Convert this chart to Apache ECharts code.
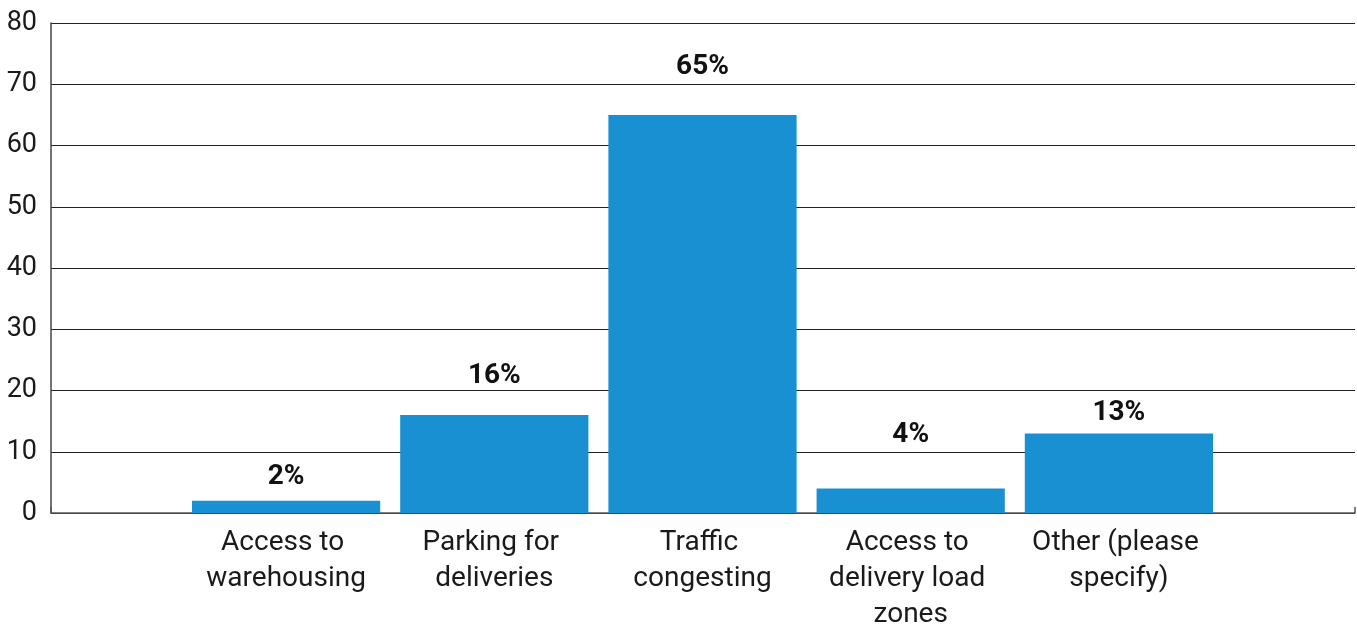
<!DOCTYPE html>
<html>
<head>
<meta charset="utf-8">
<script src="https://cdn.jsdelivr.net/npm/echarts@6/dist/echarts.min.js"></script>
<style>
  html, body { margin: 0; padding: 0; background: #fff; }
  #chart { width: 1357px; height: 626px; }
</style>
</head>
<body>
<div id="chart"></div>
<script>
// Share of respondents naming each issue (%)
const categories = [
  'Access to warehousing',
  'Parking for deliveries',
  'Traffic congesting',
  'Access to delivery load zones',
  'Other (please specify)'
];
const shares = [2, 16, 65, 4, 13];
const yTicks = { min: 0, max: 80, interval: 10 };

// Gap between each bar top and its value label (px)
const labelGap = [10, 25, 34, 40, 6];

const BAR_COLOR = '#1990d1';
const FONT = 'Roboto, "DejaVu Sans", sans-serif';

const chart = echarts.init(document.getElementById('chart'), null, { renderer: 'canvas' });

chart.setOption({
  animation: false,
  backgroundColor: '#ffffff',
  grid: [
    // frame: y scale, gridlines and baseline across the full width
    { left: 51, right: 2, top: 23, bottom: 113, containLabel: false, outerBoundsMode: 'none' },
    // bars sit in the centre band of the frame
    { left: 182, right: 134, top: 23, bottom: 113, containLabel: false, outerBoundsMode: 'none' }
  ],
  xAxis: [
    {
      type: 'value', gridIndex: 0, min: 0, max: 1, interval: 1,
      axisLine: { show: true, lineStyle: { color: '#555', width: 1.5 } },
      axisTick: { show: true, inside: true, length: 6, lineStyle: { color: '#555', width: 1.5 } },
      axisLabel: { show: false },
      splitLine: { show: false }
    },
    {
      type: 'category', gridIndex: 1, data: categories,
      axisLine: { show: false },
      axisTick: { show: false },
      axisLabel: {
        interval: 0, margin: 12,
        color: '#1a1a1a', fontFamily: FONT, fontSize: 28, lineHeight: 36,
        width: 204, overflow: 'break', align: 'center'
      },
      splitLine: { show: false }
    }
  ],
  yAxis: [
    {
      type: 'value', gridIndex: 0,
      min: yTicks.min, max: yTicks.max, interval: yTicks.interval,
      axisLine: { show: true, lineStyle: { color: '#444', width: 1.5 } },
      axisTick: { show: false },
      axisLabel: { margin: 14, color: '#1a1a1a', fontFamily: FONT, fontSize: 27 },
      splitLine: { show: true, lineStyle: { color: '#222', width: 1.2 } }
    },
    {
      type: 'value', gridIndex: 1,
      min: yTicks.min, max: yTicks.max, interval: yTicks.interval,
      show: false
    }
  ],
  series: [
    {
      type: 'bar',
      xAxisIndex: 1, yAxisIndex: 1,
      barCategoryGap: '9.6%',
      itemStyle: { color: BAR_COLOR },
      data: shares.map((v, i) => ({
        value: v,
        label: { distance: labelGap[i] }
      })),
      label: {
        show: true, position: 'top',
        formatter: p => p.value + '%',
        color: '#111', fontFamily: FONT, fontWeight: 'bold', fontSize: 28
      }
    }
  ]
});
</script>
</body>
</html>
